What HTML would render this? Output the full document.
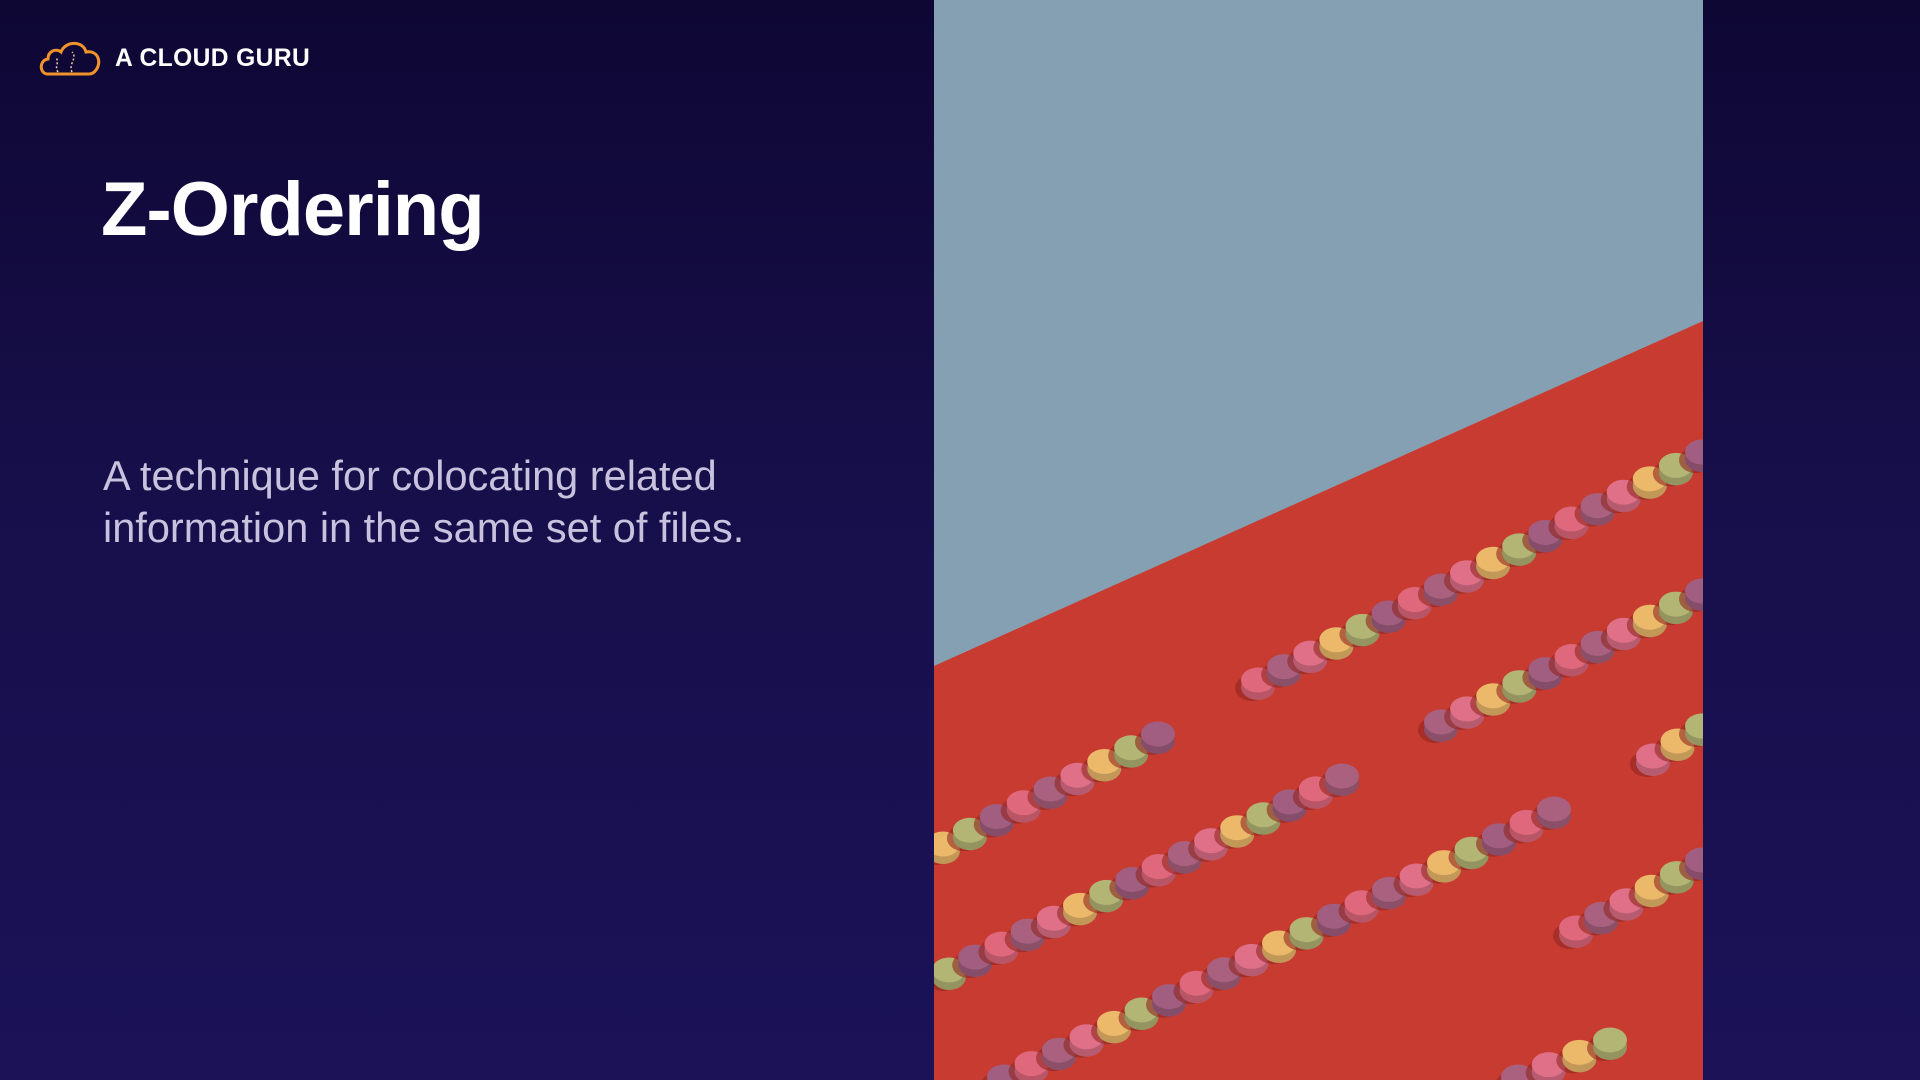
<!DOCTYPE html>
<html><head><meta charset="utf-8"><style>
html,body{margin:0;padding:0;width:1920px;height:1080px;overflow:hidden}
body{background:linear-gradient(180deg,#0e0734 0%,#170f4a 45%,#1b1258 100%);font-family:"Liberation Sans",sans-serif;position:relative}
#logo-text{position:absolute;left:115px;top:45px;color:#fff;font-weight:bold;font-size:24.6px;letter-spacing:0.4px}
#title{position:absolute;left:101px;top:166px;color:#fff;font-weight:bold;font-size:76px;letter-spacing:-1px;margin:0}
#sub{position:absolute;left:103px;top:450px;color:#c8c2de;font-size:41.5px;line-height:52px;margin:0}
#photo{position:absolute;left:934px;top:0;width:769px;height:1080px}
</style></head><body>
<svg style="position:absolute;left:38px;top:38px" width="66" height="40" viewBox="0 0 66 40">
<path d="M10 36 C1 36 1 22 10 21 C10 13 18 10 23 14 C27 3 45 2 48 14 C60 12 64 24 58 32 C56 35 54 36 51 36 Z" fill="none" stroke="#f0932b" stroke-width="3"/>
<path d="M20 34 C16 28 22 24 18 20 M34 34 C30 26 40 20 34 14" fill="none" stroke="#f0c9a0" stroke-width="1.5" stroke-dasharray="2 2"/>
</svg>
<div id="logo-text">A CLOUD GURU</div>
<h1 id="title">Z-Ordering</h1>
<p id="sub">A technique for colocating related<br>information in the same set of files.</p>
<svg id="photo" width="769" height="1080" viewBox="934 0 769 1080">
<rect x="934" y="0" width="769" height="1080" fill="#c83b31"/>
<polygon points="934,0 1703,0 1703,321 934,666" fill="#84a0b2"/>
<g id="candies"></g>
</svg>
<script>
const rowStarts=[[1258,683],[1441,725],[1653,759],[943,847],[949,973],[1004,1080],[1576,931],[1518,1080]];
const rowEnds=[[1702,455],[1702,594],[1702,729],[1158,737],[1342,779],[1554,812],[1702,863],[1610,1043]];
const colors=["#e0687c","#a9617f","#df7088","#ecb96b","#b3b574","#a25e80"];
const ns="http://www.w3.org/2000/svg";
const g=document.getElementById('candies');
rowStarts.forEach((s,r)=>{
  const e=rowEnds[r];
  const dx=e[0]-s[0],dy=e[1]-s[1];
  const len=Math.hypot(dx,dy);
  const n=Math.round(len/30);
  for(let i=0;i<=n;i++){
    const x=s[0]+dx*i/n,y=s[1]+dy*i/n;
    const c=colors[(i+r)%colors.length];
    const sh=document.createElementNS(ns,'ellipse');
    
    
    sh.setAttribute('cx',x-6);sh.setAttribute('cy',y+5);sh.setAttribute('rx',17);sh.setAttribute('ry',13);
    sh.setAttribute('fill','#8f2620');sh.setAttribute('opacity','0.6');
    g.appendChild(sh);
    const side=document.createElementNS(ns,'ellipse');
    
    
    side.setAttribute('cx',x);side.setAttribute('cy',y+4);side.setAttribute('rx',17);side.setAttribute('ry',13);
    side.setAttribute('fill',c);side.setAttribute('style','filter:brightness(0.82)');
    g.appendChild(side);
    const top=document.createElementNS(ns,'ellipse');
    
    
    top.setAttribute('cx',x);top.setAttribute('cy',y-3);top.setAttribute('rx',17);top.setAttribute('ry',12.5);
    top.setAttribute('fill',c);
    g.appendChild(top);
  }
});
</script>
</body></html>
